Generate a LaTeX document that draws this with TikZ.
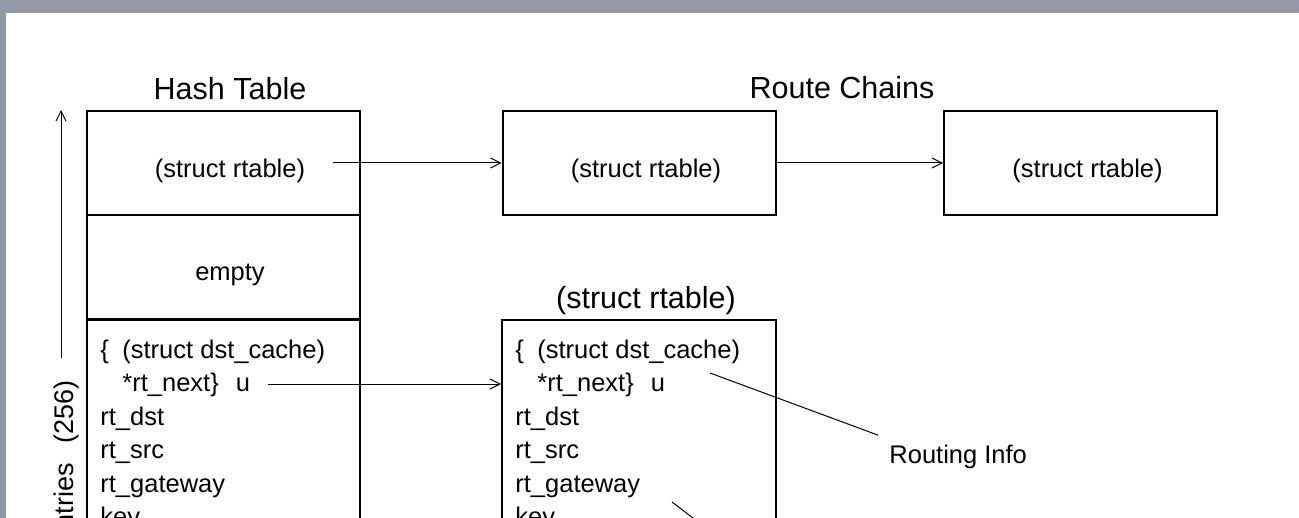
\documentclass[tikz,border=0pt]{standalone}
\usepackage{fontspec}
\setmainfont{Liberation Sans}
\usetikzlibrary{arrows.meta}
\definecolor{bandgray}{RGB}{148,151,166}
\begin{document}
\begin{tikzpicture}[x=0.5pt,y=-0.5pt,
  box/.style={draw, line width=1pt, inner sep=0pt, minimum width=136.5pt, minimum height=52pt},
  lbl/.style={inner sep=0pt, font=\fontsize{12.75}{15}\selectfont},
  ttl/.style={inner sep=0pt, font=\fontsize{15.25}{18}\selectfont},
  conn/.style={line width=0.5pt},
  arr/.style={conn, -{Straight Barb[length=5pt,width=5pt]}}]
\useasboundingbox (0,0) rectangle (1299,518);
\clip (0,0) rectangle (1299,518);
\fill[white] (0,0) rectangle (1299,518);
\fill[bandgray] (0,0) rectangle (1299,13);
\fill[bandgray] (0,0) rectangle (6,518);

% titles
\node[ttl, anchor=base] (tht) at (230,100) {Hash Table};
\node[ttl, anchor=base] (trc) at (842,99) {Route Chains};

% hash table
\node[box] (h1) at (223.5,163) {};
\node[box] (h2) at (223.5,267) {};
\node[box, anchor=north, minimum height=200pt] (h3) at (223.5,319) {};
\node[lbl, anchor=base] (h1t) at (230,177) {(struct rtable)};
\node[lbl, anchor=base] (h2t) at (230,280) {empty};
\node[lbl, anchor=base west] (hr1) at (100,358) {\{\hspace{6.75pt}(struct dst\_cache)};
\node[lbl, anchor=base west] (hr2) at (122,391) {*rt\_next\}\hspace{8.5pt}u};
\node[lbl, anchor=base west] (hr3) at (100,425) {rt\_dst};
\node[lbl, anchor=base west] (hr4) at (100,458) {rt\_src};
\node[lbl, anchor=base west] (hr5) at (100,492) {rt\_gateway};
\node[lbl, anchor=base west] (hr6) at (100,525) {key};

% route chain boxes
\node[box] (b2) at (639,163) {};
\node[box] (b3) at (1080.5,163) {};
\node[lbl, anchor=base] (b2t) at (646,177) {(struct rtable)};
\node[lbl, anchor=base] (b3t) at (1087.5,177) {(struct rtable)};

% struct rtable detail
\node[ttl, anchor=base] (t4) at (646,308) {(struct rtable)};
\node[box, anchor=north, minimum width=137pt, minimum height=200pt] (b4) at (639,319) {};
\node[lbl, anchor=base west] (br1) at (515,358) {\{\hspace{6.75pt}(struct dst\_cache)};
\node[lbl, anchor=base west] (br2) at (537,391) {*rt\_next\}\hspace{8.5pt}u};
\node[lbl, anchor=base west] (br3) at (515,425) {rt\_dst};
\node[lbl, anchor=base west] (br4) at (515,458) {rt\_src};
\node[lbl, anchor=base west] (br5) at (515,492) {rt\_gateway};
\node[lbl, anchor=base west] (br6) at (515,525) {key};

% connectors
\coordinate (a1) at (333,163);
\draw[arr] (a1) -- (b2.west);
\draw[arr] (b2.east) -- (b3.west);
\coordinate (hu) at (268,384);
\draw[arr] (hu) -- (hu -| b4.west);

% entries arrow
\coordinate (va) at (61,358);
\coordinate (vb) at (61,110);
\draw[arr] (va) -- (vb);
\node[inner sep=0pt, font=\fontsize{13.5}{16}\selectfont, rotate=90, anchor=base east] (ent) at (73,380) {Entries\hspace{10pt}(256)};

% routing info
\node[lbl, anchor=base west] (ri) at (889,463) {Routing Info};
\coordinate (rs) at (710,373);
\draw[conn] (rs) -- ([shift={(-11,-9)}]ri.north west);
\coordinate (gs) at (672,502);
\coordinate (ge) at (735,550);
\draw[conn] (gs) -- (ge);
\end{tikzpicture}
\end{document}
